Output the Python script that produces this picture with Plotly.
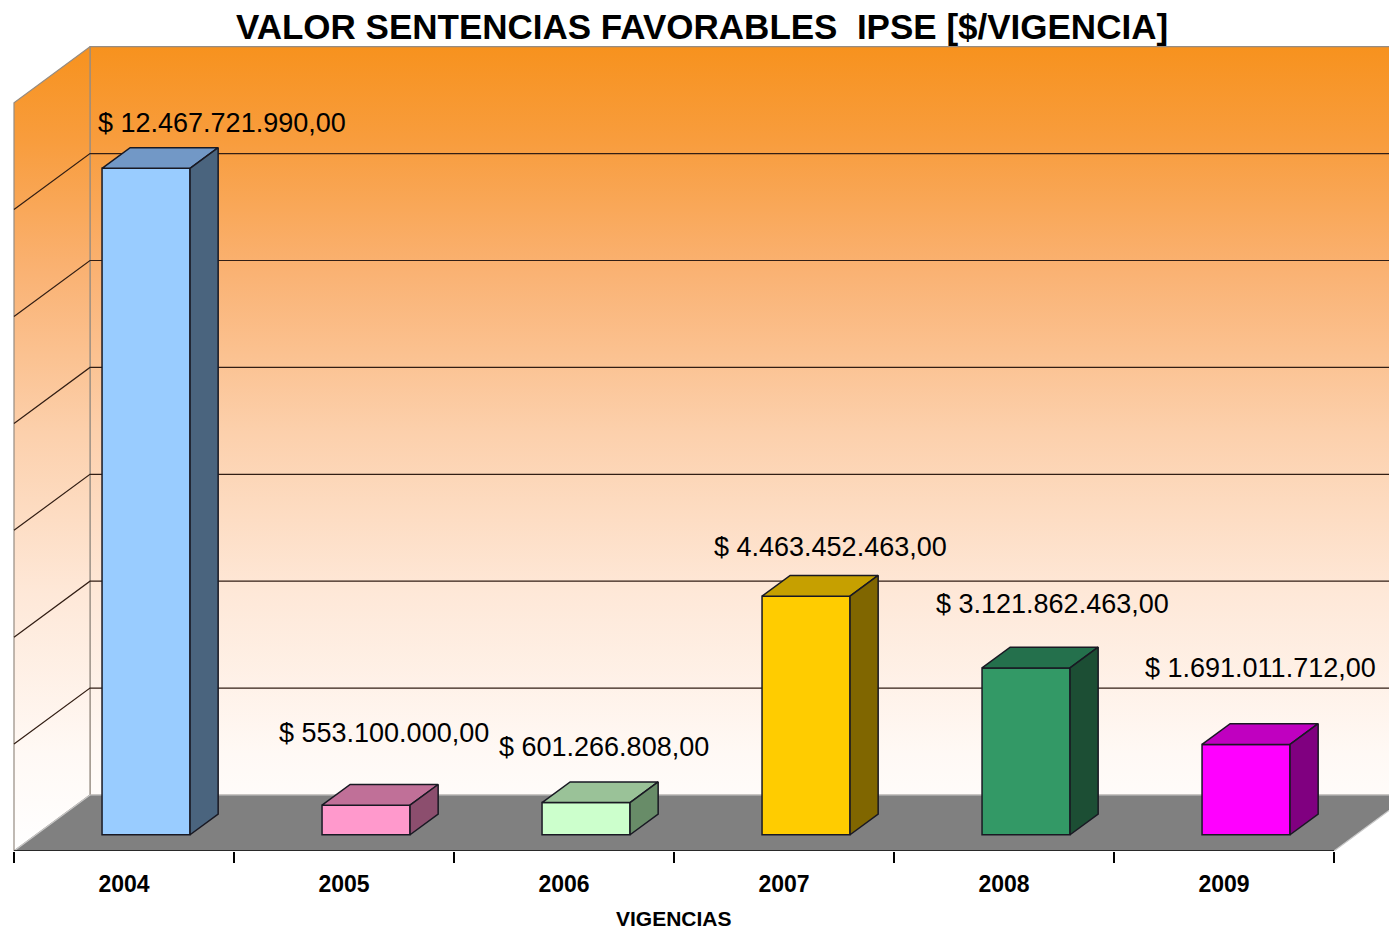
import plotly.graph_objects as go

# ---------------- data ----------------
years = ['2004', '2005', '2006', '2007', '2008', '2009']
values = [12467721990.00, 553100000.00, 601266808.00, 4463452463.00, 3121862463.00, 1691011712.00]
grid_values = [2e9, 4e9, 6e9, 8e9, 10e9, 12e9]
wall_top_value = 14e9

front_colors = ['#99CCFF', '#FF99CC', '#CCFFCC', '#FFCC00', '#339966', '#FF00FF']
top_colors = ['rgb(114,152,198)', 'rgb(192,112,152)', 'rgb(154,194,152)',
              'rgb(198,160,0)', 'rgb(36,112,76)', 'rgb(192,0,192)']
side_colors = ['rgb(74,100,126)', 'rgb(140,78,110)', 'rgb(104,140,104)',
               'rgb(128,102,0)', 'rgb(28,78,52)', 'rgb(128,0,128)']

# label offsets (pixels) relative to the back-top centre of each bar
label_xshift = [48, -10, -10, -4, -2, -14]
label_yshift = [25, 51, 35, 28, 43, 56]


def fmt(v):
    s = f"{v:,.2f}".replace(',', 'X').replace('.', ',').replace('X', '.')
    return '$ ' + s


# ---------------- pseudo-3D geometry ----------------
PX_PER_CAT = 220.0
PX_PER_VAL = 53.45e-9
DX = 76 / PX_PER_CAT          # x shift of full depth (category units)
DY = 56 / PX_PER_VAL          # y shift of full depth (value units)
D_FRONT, D_BACK = 0.29, 0.66
HALF_W = 0.2

X_RANGE = [(0 - 124) / PX_PER_CAT, (1389 - 124) / PX_PER_CAT]
Y_RANGE = [0, 851 / PX_PER_VAL]


def P(x, v, d):
    return x + d * DX, v + d * DY


def poly(points):
    xs = [p[0] for p in points] + [points[0][0]]
    ys = [p[1] for p in points] + [points[0][1]]
    return xs, ys


FONT = 'Liberation Sans, Arial, sans-serif'
n = len(years)
xi = list(range(n))

fig = go.Figure()

wall_scale = [[0.0, 'rgb(255,255,255)'], [0.12, 'rgb(255,249,245)'],
              [0.32, 'rgb(254,232,216)'], [0.52, 'rgb(252,208,172)'],
              [0.72, 'rgb(250,178,115)'], [0.88, 'rgb(248,157,62)'],
              [1.0, 'rgb(247,146,30)']]
grad = dict(type='vertical', colorscale=wall_scale, start=0, stop=wall_top_value + DY)

# back wall
bx, by = poly([P(-0.5, 0, 1), P(6.2, 0, 1), P(6.2, wall_top_value, 1), P(-0.5, wall_top_value, 1)])
fig.add_trace(go.Scatter(x=bx, y=by, mode='lines', fill='toself', fillgradient=grad,
                         line=dict(color='rgb(150,140,130)', width=1.2), hoverinfo='skip',
                         showlegend=False))
# side wall
sx, sy = poly([P(-0.5, 0, 0), P(-0.5, 0, 1), P(-0.5, wall_top_value, 1), P(-0.5, wall_top_value, 0)])
fig.add_trace(go.Scatter(x=sx, y=sy, mode='lines', fill='toself', fillgradient=grad,
                         line=dict(color='rgb(150,140,130)', width=1.2), hoverinfo='skip',
                         showlegend=False))
# gridlines (side wall + back wall)
gx, gy = [], []
for g in grid_values:
    a, b, c = P(-0.5, g, 0), P(-0.5, g, 1), P(6.2, g, 1)
    gx += [a[0], b[0], c[0], None]
    gy += [a[1], b[1], c[1], None]
fig.add_trace(go.Scatter(x=gx, y=gy, mode='lines', line=dict(color='rgb(50,30,20)', width=1.2),
                         hoverinfo='skip', showlegend=False))
# floor
fx, fy = poly([P(-0.5, 0, 0), P(5.5, 0, 0), P(5.5, 0, 1), P(-0.5, 0, 1)])
fig.add_trace(go.Scatter(x=fx, y=fy, mode='lines', fill='toself', fillcolor='rgb(128,128,128)',
                         line=dict(color='rgb(200,200,200)', width=1.2), hoverinfo='skip',
                         showlegend=False))
# axis line (floor front edge)
a0, a1 = P(-0.5, 0, 0), P(5.5, 0, 0)
fig.add_trace(go.Scatter(x=[a0[0], a1[0]], y=[a0[1], a1[1]], mode='lines',
                         line=dict(color='black', width=1.6), hoverinfo='skip', showlegend=False))

# bars: front faces (overlay axes so they sit above walls)
fig.add_trace(go.Bar(x=[i + D_FRONT * DX for i in xi], y=values, base=D_FRONT * DY,
                     width=2 * HALF_W, marker=dict(color=front_colors,
                                                   line=dict(color='rgb(25,25,35)', width=1.5)),
                     xaxis='x2', yaxis='y2', hoverinfo='skip', showlegend=False))
for i, v in enumerate(values):
    tx, ty = poly([P(i - HALF_W, v, D_FRONT), P(i + HALF_W, v, D_FRONT),
                   P(i + HALF_W, v, D_BACK), P(i - HALF_W, v, D_BACK)])
    fig.add_trace(go.Scatter(x=tx, y=ty, mode='lines', fill='toself', fillcolor=top_colors[i],
                             line=dict(color='rgb(25,25,35)', width=1.5), xaxis='x2', yaxis='y2',
                             hoverinfo='skip', showlegend=False))
    rx, ry = poly([P(i + HALF_W, 0, D_FRONT), P(i + HALF_W, 0, D_BACK),
                   P(i + HALF_W, v, D_BACK), P(i + HALF_W, v, D_FRONT)])
    fig.add_trace(go.Scatter(x=rx, y=ry, mode='lines', fill='toself', fillcolor=side_colors[i],
                             line=dict(color='rgb(25,25,35)', width=1.5), xaxis='x2', yaxis='y2',
                             hoverinfo='skip', showlegend=False))

# value labels
for i, v in enumerate(values):
    lx, ly = P(i, v, D_BACK)
    fig.add_annotation(x=lx, y=ly, xref='x', yref='y', text=fmt(v), showarrow=False,
                       xshift=label_xshift[i], yshift=label_yshift[i],
                       font=dict(family=FONT, size=27, color='black'))

# axis title
fig.add_annotation(x=2.5, y=(851 - 906) / 851, xref='x', yref='paper', yanchor='top',
                   text='<b>VIGENCIAS</b>', showarrow=False, borderpad=0,
                   font=dict(family=FONT, size=21, color='black'))

fig.update_layout(
    width=1389, height=930,
    margin=dict(l=0, r=0, t=0, b=79),
    paper_bgcolor='white', plot_bgcolor='white',
    title=dict(text='<b>VALOR SENTENCIAS FAVORABLES \u00a0IPSE [$/VIGENCIA]</b>',
               x=702 / 1389, xanchor='center', y=1 - 27 / 930, yanchor='middle',
               xref='container', yref='container',
               font=dict(family=FONT, size=35, color='black')),
    xaxis=dict(range=X_RANGE, showgrid=False, zeroline=False, showline=False,
               tickmode='array', tickvals=xi, ticktext=[f'<b>{y}</b>' for y in years],
               ticks='', ticklabelstandoff=17,
               tickfont=dict(family=FONT, size=23, color='black'),
               minor=dict(tickmode='array', tickvals=[i - 0.5 for i in range(n + 1)],
                          ticks='outside', ticklen=11, tickcolor='black', tickwidth=1.5,
                          showgrid=False),
               fixedrange=True),
    yaxis=dict(range=Y_RANGE, visible=False, fixedrange=True),
    xaxis2=dict(range=X_RANGE, overlaying='x', visible=False, fixedrange=True),
    yaxis2=dict(range=Y_RANGE, overlaying='y', visible=False, fixedrange=True),
    showlegend=False,
)

fig.write_html('out.html', config={'displayModeBar': False},
               post_script="document.body.style.margin='0';")
